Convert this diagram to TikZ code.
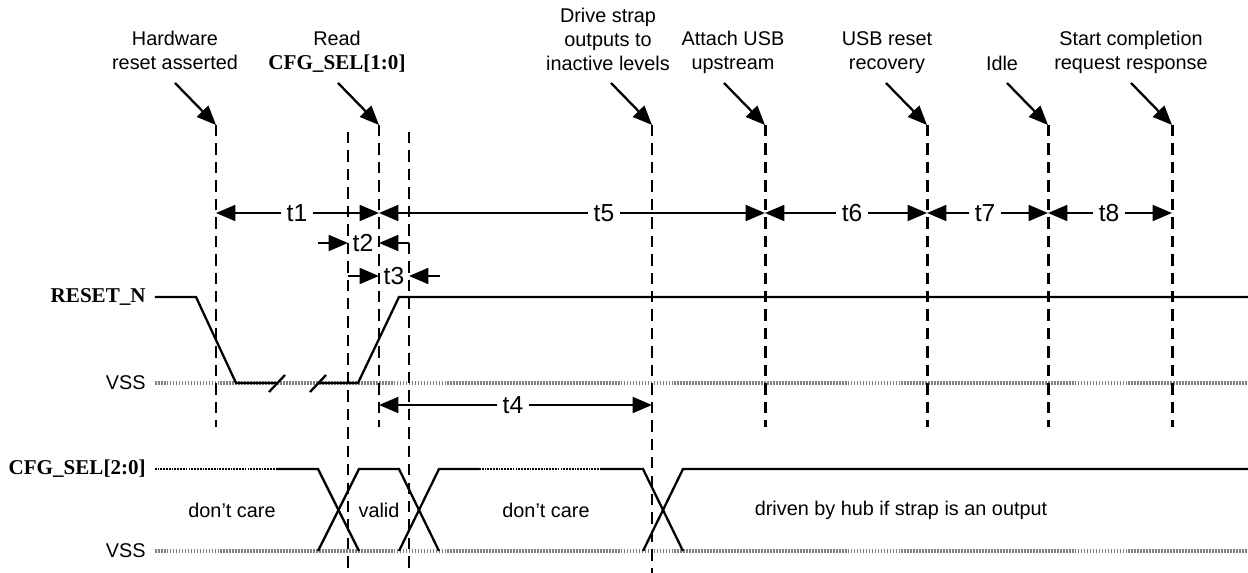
\documentclass[tikz,border=0pt]{standalone}
\usepackage{fontspec}
\setmainfont{Liberation Sans}
\newfontfamily\sigfont{Liberation Serif}
\usetikzlibrary{arrows.meta}

\tikzset{
  guide/.style={line width=1.7pt, dash pattern=on 6.5pt off 4pt},
  wave/.style={line width=1.3pt},
  vssline/.style={line width=1.8pt, color=black!50, dash pattern=on 1pt off 0.7pt},
  dontcare/.style={line width=1.4pt, dash pattern=on 1pt off 0.6pt},
  tspan/.style={line width=1.3pt, -{Triangle[length=11pt,width=9pt]}},
  pointer/.style={line width=1.3pt, -{Triangle[length=11pt,width=9pt]}},
  lbl/.style={align=center, anchor=north, inner sep=0pt, font=\fontsize{11.3}{13.6}\selectfont},
  tlbl/.style={inner sep=3pt, font=\fontsize{14}{16}\selectfont},
  siglbl/.style={anchor=east, inner sep=0pt, font=\sigfont\bfseries\fontsize{12}{14}\selectfont},
  txt/.style={font=\fontsize{11.3}{13}\selectfont}
}

\begin{document}
\begin{tikzpicture}[x=0.02cm,y=-0.02cm]
\useasboundingbox (0,0) rectangle (1248,573);

% signal names
\node[siglbl] (rst) at (146,297) {RESET\_N};
\node[txt, anchor=east, inner sep=0pt] (vssa) at (146,383) {VSS};
\node[siglbl] (cfg) at (146,469) {CFG\_SEL[2:0]};
\node[txt, anchor=east, inner sep=0pt] (vssb) at (146,551) {VSS};

% ground levels
\draw[vssline] ([xshift=5pt]vssa.east) -- (1248,383);
\draw[vssline] ([xshift=5pt]vssb.east) -- (1248,551);

% RESET_N
\draw[wave] ([xshift=5pt]rst.east) -- (196,297) -- (236,383) -- (277,383);
\draw[wave] (318,383) -- (358,383) -- (399,297) -- (1248,297);
\draw[wave] (269,392) -- (285,375);
\draw[wave] (310,392) -- (326,375);

% CFG_SEL
\draw[dontcare] ([xshift=5pt]cfg.east) -- (276,469);
\draw[wave] (276,469) -- (318,469) -- (359,551);
\draw[wave] (318,551) -- (359,469) -- (399,469) -- (439,551);
\draw[wave] (399,551) -- (439,469) -- (479,469);
\draw[dontcare] (479,469) -- (600,469);
\draw[wave] (600,469) -- (643,469) -- (683,551);
\draw[wave] (643,551) -- (683,469) -- (1248,469);
\node[txt] (dca) at (232,510) {don’t care};
\node[txt] (vld) at (379,510) {valid};
\node[txt] (dcb) at (546,510) {don’t care};
\node[txt] (hub) at (901,510) {driven by hub if strap is an output};

% time markers
\foreach \n/\x/\t/\b in {ha/216/125/427, va/348/132/573, rd/379/125/427,
    vb/409/132/573, ds/652/125/573, au/765/125/427, ur/927/125/427,
    id/1048/125/427, sc/1172/125/427}{
  \coordinate (\n) at (\x,\t);
  \draw[guide] (\n) -- (\x,\b);
}

% events
\node[lbl] (hwl) at (175,31) {Hardware\\reset asserted};
\node[lbl] (rdl) at (337,31) {Read\\{\sigfont\bfseries\fontsize{12}{13.6}\selectfont CFG\_SEL[1:0]}};
\node[lbl] (dsl) at (608,8) {Drive strap\\outputs to\\inactive levels};
\node[lbl] (aul) at (733,31) {Attach USB\\upstream};
\node[lbl] (url) at (887,31) {USB reset\\recovery};
\node[lbl] (idl) at (1002,56) {Idle};
\node[lbl] (scl) at (1131,31) {Start completion\\request response};
\foreach \m in {ha, rd, ds, au, ur, id, sc}
  \draw[pointer] (\m) ++(-41,-42) -- (\m);

% timings
\node[tlbl] (t1) at (297,213) {t1};
\draw[tspan] (t1) -- (ha |- t1);
\draw[tspan] (t1) -- (rd |- t1);
\node[tlbl] (t5) at (604,213) {t5};
\draw[tspan] (t5) -- (rd |- t5);
\draw[tspan] (t5) -- (au |- t5);
\node[tlbl] (t6) at (852,213) {t6};
\draw[tspan] (t6) -- (au |- t6);
\draw[tspan] (t6) -- (ur |- t6);
\node[tlbl] (t7) at (985,213) {t7};
\draw[tspan] (t7) -- (ur |- t7);
\draw[tspan] (t7) -- (id |- t7);
\node[tlbl] (t8) at (1109,213) {t8};
\draw[tspan] (t8) -- (id |- t8);
\draw[tspan] (t8) -- (sc |- t8);

\node[tlbl, inner sep=1pt] (t2) at (363,243) {t2};
\coordinate (t2a) at (318,243);
\draw[tspan] (t2a) -- (va |- t2);
\draw[tspan] (vb |- t2) -- (rd |- t2);

\node[tlbl, inner sep=1pt] (t3) at (394,276) {t3};
\coordinate (t3a) at (440,276);
\draw[tspan] (va |- t3) -- (rd |- t3);
\draw[tspan] (t3a) -- (vb |- t3);

\node[tlbl] (t4) at (513,405) {t4};
\draw[tspan] (t4) -- (rd |- t4);
\draw[tspan] (t4) -- (ds |- t4);
\end{tikzpicture}
\end{document}
